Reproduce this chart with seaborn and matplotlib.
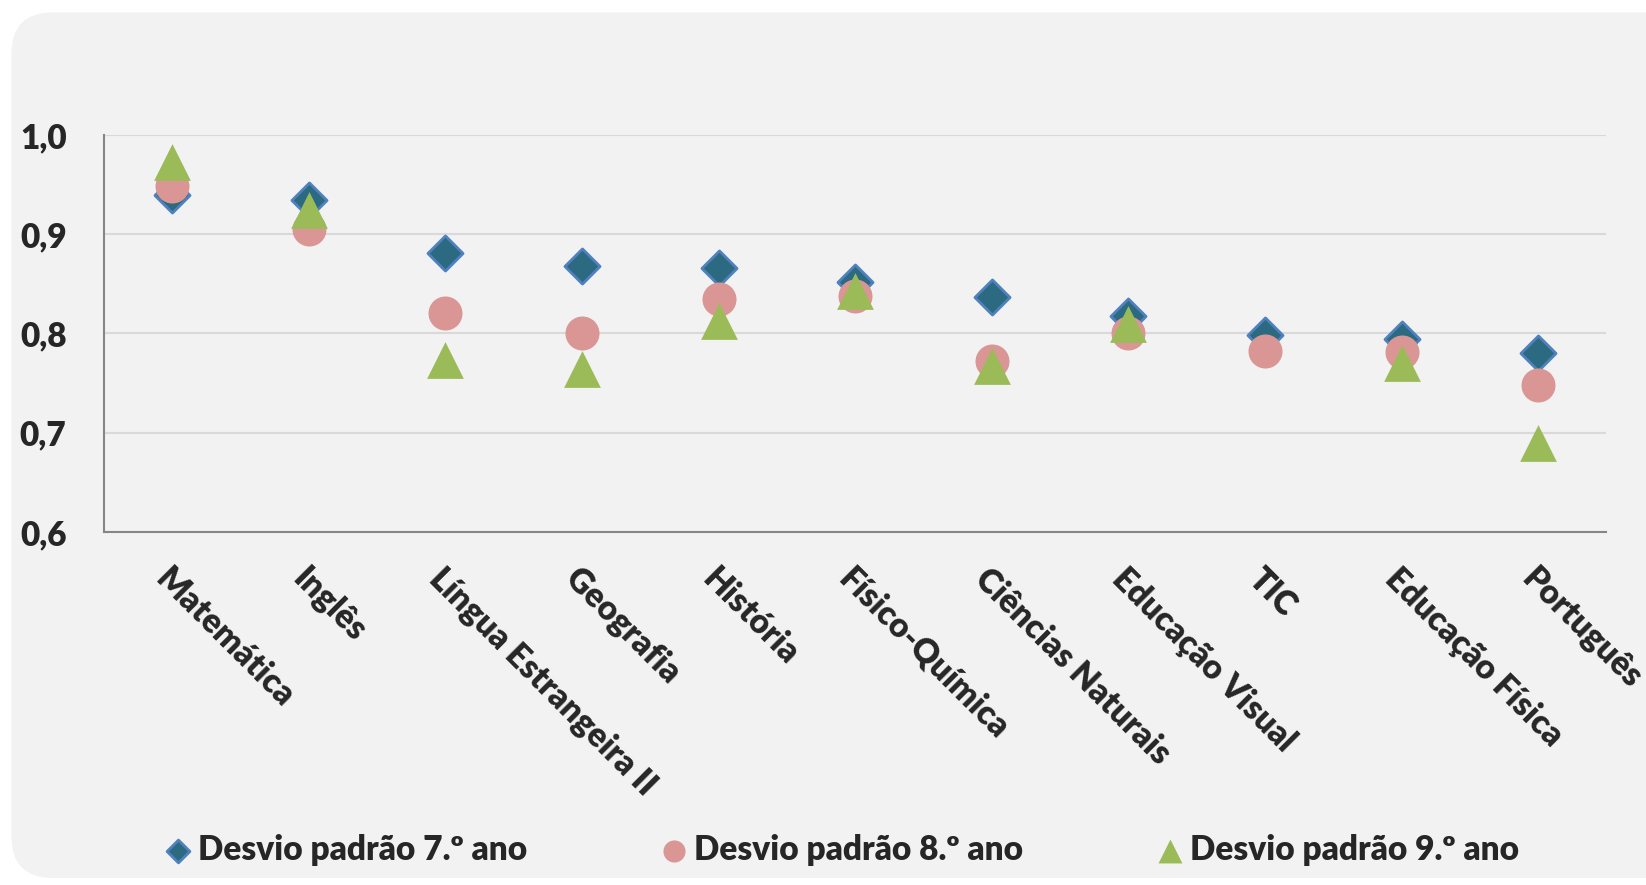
import matplotlib.pyplot as plt
import seaborn as sns
import pandas as pd
import numpy as np
from matplotlib.patches import FancyBboxPatch
from matplotlib.ticker import FuncFormatter

subjects = ['Matemática', 'Inglês', 'Língua Estrangeira II', 'Geografia', 'História',
            'Físico-Química', 'Ciências Naturais', 'Educação Visual', 'TIC',
            'Educação Física', 'Português']
dp_7 = [0.939, 0.934, 0.881, 0.868, 0.866, 0.852, 0.837, 0.818, 0.798, 0.794, 0.780]
dp_8 = [0.949, 0.905, 0.821, 0.800, 0.835, 0.838, 0.772, 0.800, 0.782, 0.781, 0.748]
dp_9 = [0.973, 0.924, 0.773, 0.764, 0.813, 0.843, 0.767, 0.809, np.nan, 0.770, 0.690]
series_names = ['Desvio padrão 7.º ano', 'Desvio padrão 8.º ano', 'Desvio padrão 9.º ano']

styles = [
    {'marker': 'D', 's': 320, 'facecolor': '#2B6A80', 'edgecolor': '#4F81BD', 'lw': 2},
    {'marker': 'o', 's': 600, 'facecolor': '#D99694', 'edgecolor': '#D99694', 'lw': 0},
    {'marker': '^', 's': 700, 'facecolor': '#9BBB59', 'edgecolor': '#9BBB59', 'lw': 0},
]
FS = 24
WEIGHT = 'heavy'

sns.set_style('white')
plt.rcParams['font.family'] = ['Lato', 'DejaVu Sans']
plt.rcParams['font.weight'] = WEIGHT

fig = plt.figure(figsize=(16.46, 8.85), dpi=100, facecolor='white')
bg = FancyBboxPatch((0.007, 0.008), 1.1, 0.978, boxstyle='round,pad=0,rounding_size=0.025',
                    transform=fig.transFigure, facecolor='#F2F2F2', edgecolor='none',
                    mutation_aspect=1.86, zorder=-10)
fig.patches.append(bg)

ax = fig.add_axes([0.0632, 0.399, 0.9128, 0.4485])
ax.set_facecolor('none')

for name, vals, st in zip(series_names, [dp_7, dp_8, dp_9], styles):
    df = pd.DataFrame({'disciplina': subjects, 'valor': vals})
    sns.scatterplot(data=df, x='disciplina', y='valor', ax=ax, marker=st['marker'],
                    s=st['s'], color=st['facecolor'], edgecolor=st['edgecolor'],
                    linewidth=st['lw'], label=name, legend=False, zorder=3)

ax.set_xlim(-0.5, len(subjects) - 0.5)
ax.set_ylim(0.6, 1.0)
ax.set_yticks([0.6, 0.7, 0.8, 0.9, 1.0])
ax.yaxis.set_major_formatter(FuncFormatter(lambda v, p: f'{v:.1f}'.replace('.', ',')))
ax.grid(axis='y', color='#D9D9D9', lw=1.5)
ax.set_axisbelow(True)
for side in ['top', 'right']:
    ax.spines[side].set_visible(False)
for side in ['left', 'bottom']:
    ax.spines[side].set_color('#868686')
    ax.spines[side].set_linewidth(1.5)

ax.set_xticks(range(len(subjects)))
ax.set_xticks(np.arange(-0.5, len(subjects)), minor=True)
ax.set_xticklabels(subjects, rotation=-45, ha='left', va='top', rotation_mode='anchor',
                   fontsize=FS, fontweight=WEIGHT)
ax.tick_params(axis='x', which='major', length=0, pad=22)
ax.tick_params(axis='x', which='minor', length=8, width=1.5, color='#868686', direction='out')
ax.tick_params(axis='y', length=9, width=1.5, color='#868686', direction='out', pad=18,
               labelsize=FS)
for t in ax.get_yticklabels():
    t.set_fontweight(WEIGHT)
ax.set_xlabel('')
ax.set_ylabel('')

handles, labels = ax.get_legend_handles_labels()
fig.legend(handles, labels, loc='center', ncol=3, bbox_to_anchor=(0.5105, 0.04),
           frameon=False, prop={'size': FS, 'weight': WEIGHT}, markerscale=0.65,
           handletextpad=0.1, columnspacing=3.9, handlelength=1.0)

fig.savefig('out.png', dpi=100, facecolor=fig.get_facecolor())
